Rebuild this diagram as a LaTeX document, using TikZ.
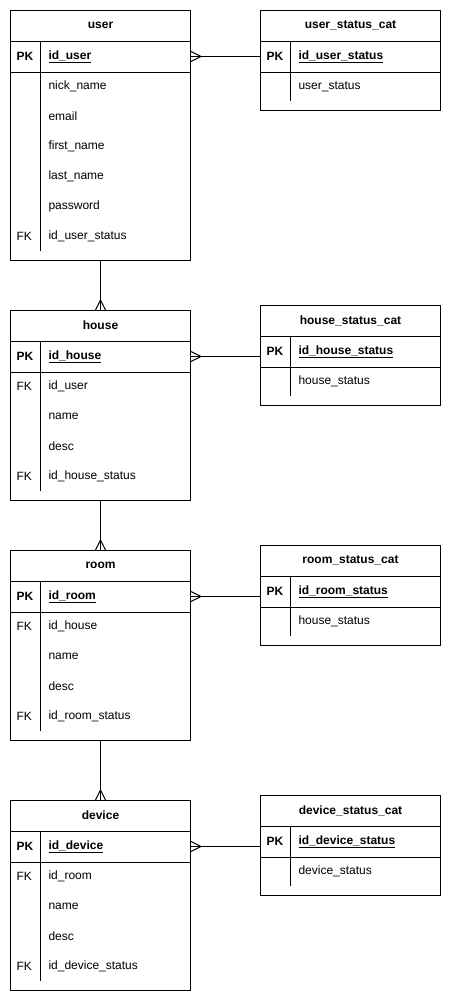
\documentclass[tikz,border=0pt]{standalone}
\usepackage{fontspec}
\setmainfont{Liberation Sans}
\newcommand{\ertable}[6]{% name, x, y, height, title, pk
  \node[tbox, minimum height=#4] (#1) at (#2,#3) {};
  \node[hbox] (#1-h) at (#2,#3) {\textbf{#5}};
  \draw (#1-h.south west) -- (#1-h.south east);
  \node[hbox] (#1-pk) at (#1-h.south west) {};
  \draw (#1-pk.south west) -- (#1-pk.south east);
  \node[keylbl] (#1-pkk) at ([xshift=6pt]#1-pk.west) {\textbf{PK}};
  \node[fld] (#1-pkt) at ([xshift=38pt]#1-pk.west) {\underline{\textbf{#6}}};
  \draw ([xshift=30pt]#1-h.south west) -- ([xshift=30pt,yshift=10pt]#1.south west);
}
\newcommand{\erfield}[5]{% name, table, row, key, text
  \node[fld] (#1) at ([xshift=38pt,yshift=-30pt*#3]#2-pk.west) {#5};
  \node[keylbl] (#1-k) at ([xshift=6pt,yshift=-30pt*#3]#2-pk.west) {#4};
}
\newcommand{\crowR}[1]{\draw (#1) ++(0,-5) -- ++(10,5) -- ++(-10,5);}
\newcommand{\crowD}[1]{\draw (#1) ++(-5,0) -- ++(5,-10) -- ++(5,10);}
\begin{document}
\begin{tikzpicture}[x=1pt,y=-1pt,line width=1pt,
  every node/.style={font=\fontsize{12}{14}\selectfont, inner sep=0pt},
  tbox/.style={draw, anchor=north west, minimum width=180pt},
  hbox/.style={anchor=north west, minimum width=180pt, minimum height=30pt},
  keylbl/.style={anchor=west},
  fld/.style={anchor=west}]
\useasboundingbox (0,0) rectangle (451,1001);

% user
\ertable{user}{10}{10}{250}{user}{id\_user}
\erfield{u1}{user}{1}{}{nick\_name}
\erfield{u2}{user}{2}{}{email}
\erfield{u3}{user}{3}{}{first\_name}
\erfield{u4}{user}{4}{}{last\_name}
\erfield{u5}{user}{5}{}{password}
\erfield{u6}{user}{6}{FK}{id\_user\_status}

\ertable{usc}{260}{10}{100}{user\_status\_cat}{id\_user\_status}
\erfield{us1}{usc}{1}{}{user\_status}

% house
\ertable{house}{10}{310}{190}{house}{id\_house}
\erfield{h1}{house}{1}{FK}{id\_user}
\erfield{h2}{house}{2}{}{name}
\erfield{h3}{house}{3}{}{desc}
\erfield{h4}{house}{4}{FK}{id\_house\_status}

\ertable{hsc}{260}{305}{100}{house\_status\_cat}{id\_house\_status}
\erfield{hs1}{hsc}{1}{}{house\_status}

% room
\ertable{room}{10}{550}{190}{room}{id\_room}
\erfield{r1}{room}{1}{FK}{id\_house}
\erfield{r2}{room}{2}{}{name}
\erfield{r3}{room}{3}{}{desc}
\erfield{r4}{room}{4}{FK}{id\_room\_status}

\ertable{rsc}{260}{545}{100}{room\_status\_cat}{id\_room\_status}
\erfield{rs1}{rsc}{1}{}{house\_status}

% device
\ertable{device}{10}{800}{190}{device}{id\_device}
\erfield{d1}{device}{1}{FK}{id\_room}
\erfield{d2}{device}{2}{}{name}
\erfield{d3}{device}{3}{}{desc}
\erfield{d4}{device}{4}{FK}{id\_device\_status}

\ertable{dsc}{260}{795}{100}{device\_status\_cat}{id\_device\_status}
\erfield{ds1}{dsc}{1}{}{device\_status}

% connectors
\draw (user-pk.east) -- (user-pk.east -| usc.west); \crowR{user-pk.east}
\draw (house-pk.east) -- (house-pk.east -| hsc.west); \crowR{house-pk.east}
\draw (room-pk.east) -- (room-pk.east -| rsc.west); \crowR{room-pk.east}
\draw (device-pk.east) -- (device-pk.east -| dsc.west); \crowR{device-pk.east}

\draw (user.south) -- (house.north); \crowD{house.north}
\draw (house.south) -- (room.north); \crowD{room.north}
\draw (room.south) -- (device.north); \crowD{device.north}
\end{tikzpicture}
\end{document}
